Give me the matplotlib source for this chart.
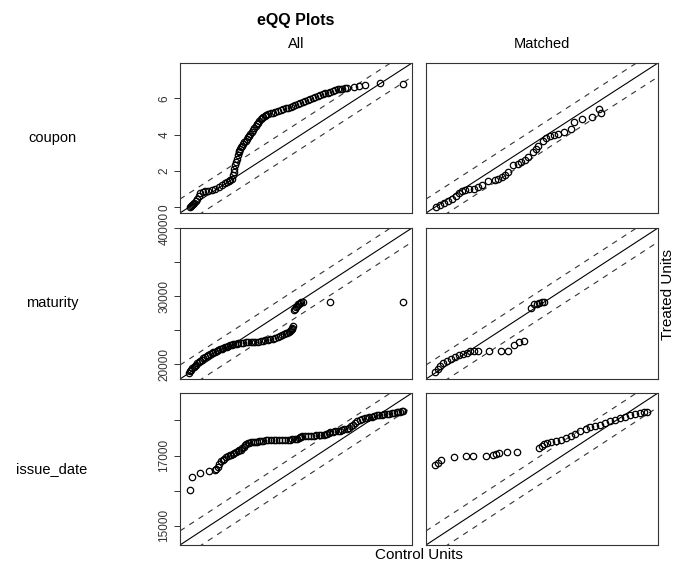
import numpy as np
import matplotlib.pyplot as plt

plt.rcParams['font.family'] = ['Liberation Sans', 'DejaVu Sans']

variables = ['coupon', 'maturity', 'issue_date']
columns = ['All', 'Matched']

# empirical quantiles: control (x) vs treated (y)
coupon_ctrl_all = [0.05, 0.09, 0.12, 0.16, 0.19, 0.25, 0.31, 0.37, 0.42, 0.50,
                   0.60, 0.70, 0.84, 0.95, 1.07, 1.18, 1.30, 1.36, 1.42, 1.48,
                   1.54, 1.57, 1.60, 1.63, 1.66, 1.69, 1.72, 1.75, 1.78, 1.81,
                   1.84, 1.87, 1.89, 1.94, 1.98, 2.03, 2.07, 2.11, 2.15, 2.20,
                   2.24, 2.29, 2.33, 2.38, 2.42, 2.47, 2.51, 2.56, 2.60, 2.66,
                   2.71, 2.77, 2.83, 2.92, 3.00, 3.09, 3.18, 3.27, 3.36, 3.45,
                   3.54, 3.63, 3.71, 3.80, 3.89, 3.98, 4.06, 4.15, 4.24, 4.33,
                   4.41, 4.50, 4.59, 4.68, 4.77, 4.86, 4.95, 5.04, 5.12, 5.21,
                   5.30, 5.39, 5.47, 5.56, 5.65, 5.88, 6.05, 6.29, 6.82, 7.64]
coupon_trt_all = [0.00, 0.07, 0.14, 0.21, 0.27, 0.38, 0.49, 0.65, 0.80, 0.86,
                  0.91, 0.93, 0.94, 1.03, 1.13, 1.24, 1.35, 1.40, 1.46, 1.52,
                  1.58, 1.77, 1.95, 2.13, 2.31, 2.49, 2.67, 2.86, 3.04, 3.13,
                  3.22, 3.31, 3.40, 3.49, 3.58, 3.67, 3.76, 3.86, 3.95, 4.04,
                  4.13, 4.24, 4.35, 4.47, 4.58, 4.67, 4.76, 4.85, 4.94, 4.99,
                  5.03, 5.08, 5.12, 5.17, 5.21, 5.26, 5.30, 5.35, 5.40, 5.45,
                  5.49, 5.54, 5.58, 5.63, 5.67, 5.73, 5.78, 5.84, 5.90, 5.96,
                  6.01, 6.07, 6.12, 6.17, 6.22, 6.27, 6.31, 6.36, 6.40, 6.45,
                  6.49, 6.52, 6.54, 6.56, 6.58, 6.63, 6.68, 6.76, 6.85, 6.81]
coupon_ctrl_m = [0.04, 0.18, 0.33, 0.48, 0.63, 0.75, 0.86, 0.98, 1.09, 1.24, 1.39, 1.53, 1.68, 1.89,
                 2.15, 2.27, 2.39, 2.50, 2.62, 2.80, 2.95, 3.09, 3.21, 3.33, 3.50, 3.59, 3.68, 3.85,
                 3.97, 4.09, 4.23, 4.38, 4.61, 4.85, 4.97, 5.26, 5.61, 5.85, 5.91]
coupon_trt_m = [0.00, 0.11, 0.22, 0.33, 0.45, 0.63, 0.82, 0.88, 0.94, 0.99, 1.04, 1.13, 1.22, 1.43,
                1.49, 1.58, 1.67, 1.81, 1.95, 2.31, 2.40, 2.49, 2.62, 2.76, 3.04, 3.22, 3.40, 3.67,
                3.80, 3.94, 3.98, 4.03, 4.13, 4.31, 4.70, 4.85, 5.00, 5.40, 5.18]

maturity_ctrl_all = [18690, 18810, 18930, 19050, 19170, 19290, 19400, 19520, 19640, 19800,
                     19950, 20110, 20270, 20420, 20580, 20740, 20900, 21060, 21220, 21380,
                     21540, 21700, 21850, 22000, 22160, 22320, 22480, 22640, 22800, 22950,
                     23110, 23270, 23430, 23660, 23900, 24140, 24380, 24610, 24850, 25080,
                     25320, 25560, 25800, 26030, 26270, 26510, 26750, 26980, 27220, 27410,
                     27610, 27800, 28000, 28120, 28240, 28360, 28480, 28540, 28600, 28690,
                     28790, 28870, 28950, 29030, 29110, 29230, 29350, 29470, 29580, 32200,
                     39210]
maturity_trt_all = [18750, 19000, 19250, 19440, 19620, 19800, 19990, 20170, 20350, 20530,
                    20710, 20890, 21070, 21220, 21370, 21510, 21660, 21780, 21900, 22020,
                    22140, 22240, 22340, 22430, 22530, 22620, 22720, 22810, 22910, 22960,
                    23010, 23060, 23110, 23150, 23190, 23230, 23260, 23280, 23300, 23320,
                    23350, 23410, 23470, 23530, 23590, 23690, 23790, 23890, 23990, 24130,
                    24280, 24420, 24570, 24690, 24810, 24930, 25050, 25200, 25360, 25670,
                    27960, 28180, 28400, 28610, 28830, 28930, 29030, 29130, 29230, 29230,
                    29230]
maturity_ctrl_m = [18750, 18980, 19220, 19540, 19860, 20250, 20640, 21040, 21440, 21750, 22070,
                   22460, 22860, 23870, 25070, 25700, 26270, 26800, 27270, 27910, 28220, 28450,
                   28700, 28940, 29170]
maturity_trt_m = [18890, 19370, 19850, 20220, 20580, 20870, 21160, 21360, 21550, 21750, 21950,
                  21950, 21950, 21950, 21950, 22040, 22860, 23260, 23490, 28350, 28830, 28950,
                  29080, 29150, 29230]

issue_ctrl_all = [14635, 14680, 14820, 14990, 15100, 15130, 15160, 15190, 15220, 15250,
                  15280, 15312, 15345, 15378, 15410, 15440, 15470, 15500, 15530, 15560,
                  15590, 15615, 15640, 15662, 15685, 15718, 15750, 15780, 15810, 15848,
                  15885, 15922, 15960, 16008, 16055, 16102, 16150, 16200, 16250, 16305,
                  16360, 16410, 16460, 16505, 16550, 16595, 16640, 16665, 16690, 16712,
                  16735, 16790, 16845, 16898, 16950, 16995, 17040, 17088, 17135, 17168,
                  17200, 17230, 17260, 17305, 17350, 17398, 17445, 17482, 17520, 17560,
                  17600, 17640, 17680, 17718, 17755, 17802, 17850, 17895, 17940, 17985,
                  18030, 18078, 18125, 18172, 18220, 18265, 18310, 18355, 18400, 18448,
                  18495, 18528, 18560, 18590, 18620]
issue_trt_all = [16030, 16390, 16510, 16560, 16580, 16620, 16670, 16760, 16840, 16875,
                 16910, 16945, 16980, 17005, 17030, 17055, 17080, 17105, 17130, 17150,
                 17170, 17210, 17250, 17290, 17330, 17345, 17360, 17375, 17390, 17395,
                 17400, 17402, 17405, 17418, 17430, 17440, 17450, 17450, 17450, 17450,
                 17450, 17450, 17450, 17455, 17460, 17470, 17480, 17500, 17520, 17535,
                 17550, 17555, 17560, 17565, 17570, 17572, 17575, 17578, 17580, 17600,
                 17620, 17640, 17660, 17675, 17690, 17700, 17710, 17728, 17745, 17762,
                 17780, 17830, 17880, 17925, 17970, 18000, 18030, 18055, 18080, 18095,
                 18110, 18125, 18140, 18150, 18160, 18170, 18180, 18195, 18210, 18222,
                 18235, 18242, 18250, 18260, 18270]
issue_ctrl_m = [14615, 14680, 14740, 14985, 15200, 15325, 15575, 15700, 15760, 15820, 15960,
                16150, 16560, 16610, 16655, 16720, 16780, 16870, 16965, 17060, 17150, 17240,
                17335, 17430, 17520, 17610, 17705, 17800, 17890, 17980, 18075, 18170, 18260,
                18350, 18445, 18510, 18570]
issue_trt_m = [16720, 16800, 16860, 16950, 16980, 16980, 16980, 17030, 17050, 17080, 17090,
               17105, 17220, 17280, 17330, 17360, 17390, 17420, 17450, 17500, 17550, 17620,
               17690, 17750, 17800, 17830, 17860, 17920, 17970, 18010, 18060, 18110, 18160,
               18185, 18210, 18230, 18250]

yticks = [[0, 2, 4, 6],
          [20000, 25000, 30000, 35000, 40000],
          [15000, 16000, 17000, 18000]]
yticklabels = [['0', '2', '4', '6'],
               ['20000', '', '30000', '', '40000'],
               ['15000', '', '17000', '']]

data = [[(coupon_ctrl_all, coupon_trt_all), (coupon_ctrl_m, coupon_trt_m)],
        [(maturity_ctrl_all, maturity_trt_all), (maturity_ctrl_m, maturity_trt_m)],
        [(issue_ctrl_all, issue_trt_all), (issue_ctrl_m, issue_trt_m)]]

W, H = 676, 563
fig = plt.figure(figsize=(W / 100, H / 100), dpi=100)

col_left = [180, 426]
col_w = 232
row_top = [63, 228, 393]
row_h = [150, 151, 152]

for i, var in enumerate(variables):
    allpts = np.concatenate([np.concatenate(p) for p in data[i]])
    rr = (allpts.min(), allpts.max())
    d = rr[1] - rr[0]
    lim = (rr[0] - 0.04 * d, rr[1] + 0.04 * d)
    for j in range(2):
        ax = fig.add_axes([col_left[j] / W, 1 - (row_top[i] + row_h[i]) / H,
                           col_w / W, row_h[i] / H])
        x, y = data[i][j]
        xs = np.array(lim)
        ax.plot(xs, xs, color='black', lw=0.8)
        ax.plot(xs, xs + 0.1 * d, color='#333333', lw=0.8, dashes=(5, 5))
        ax.plot(xs, xs - 0.1 * d, color='#333333', lw=0.8, dashes=(5, 5))
        ax.plot(x, y, 'o', mfc='none', mec='black', ms=4.6, mew=0.9)
        ax.set_xlim(lim)
        ax.set_ylim(lim)
        ax.set_xticks([])
        if j == 0:
            ax.set_yticks(yticks[i])
            ax.set_yticklabels(yticklabels[i], rotation=90, va='center', fontsize=8.5,
                               color='#333333')
            ax.tick_params(axis='y', length=4, width=0.7, pad=3, color='#333333')
        else:
            ax.set_yticks([])
        for s in ax.spines.values():
            s.set_linewidth(0.8)
            s.set_color('#333333')
    fig.text(52 / W, 1 - (row_top[i] + row_h[i] / 2) / H, var, ha='center', va='center',
             fontsize=10.5)

fig.text(296 / W, 1 - 20 / H, 'eQQ Plots', ha='center', va='center', fontsize=11.5,
         fontweight='bold')
for j, c in enumerate(columns):
    fig.text((col_left[j] + col_w / 2) / W, 1 - 44 / H, c, ha='center', va='center',
             fontsize=10.5)
fig.text(668 / W, 1 - 295 / H, 'Treated Units', ha='center', va='center', rotation=90,
         fontsize=11)
fig.text(419 / W, 1 - 555 / H, 'Control Units', ha='center', va='center', fontsize=11)

fig.savefig('out.png', dpi=100)
